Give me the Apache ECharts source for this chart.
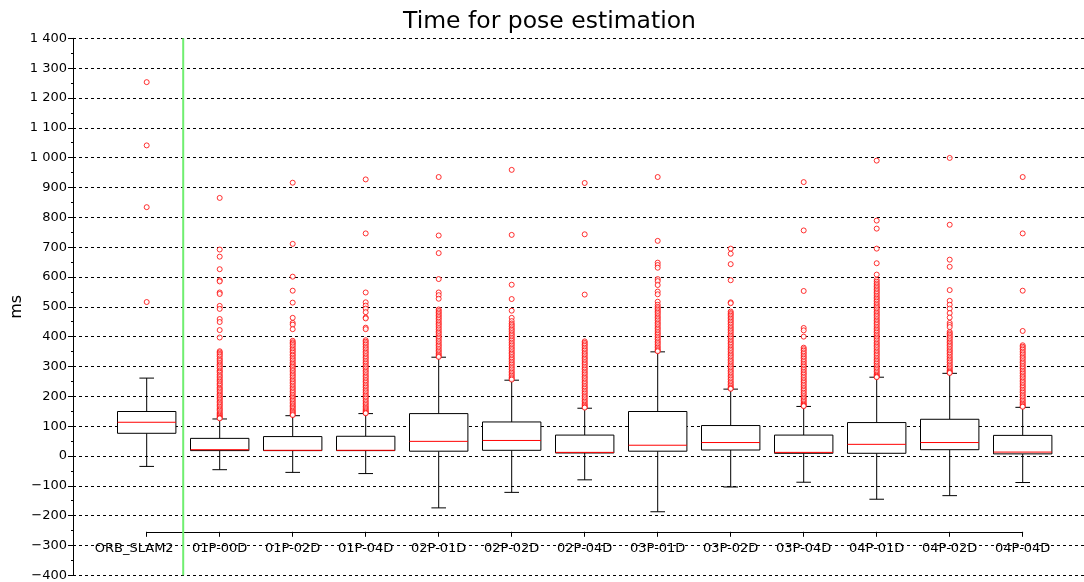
<!DOCTYPE html>
<html>
<head>
<meta charset="utf-8">
<script src="https://cdn.jsdelivr.net/npm/echarts@6/dist/echarts.min.js"></script>
<style>
html,body{margin:0;padding:0;background:#fff;}
#chart{width:1084px;height:582px;}
</style>
</head>
<body>
<div id="chart"></div>
<script>
const categories = ['ORB_SLAM2','01P-00D','01P-02D','01P-04D','02P-01D','02P-02D','02P-04D','03P-01D','03P-02D','03P-04D','04P-01D','04P-02D','04P-04D'];
const whiskerLow  = [-35, -46, -55, -59, -174, -122, -80, -187, -104, -88, -145, -133, -89];
const q1          = [76, 18, 18, 18, 16, 19, 10, 16, 20, 9, 9, 21, 7];
const median      = [113, 21, 19, 19, 49, 52, 12, 36, 45, 12, 39, 45, 13];
const q3          = [149, 59, 65, 66, 142, 114, 70, 149, 102, 70, 112, 123, 69];
const whiskerHigh = [261, 124, 135, 142, 331, 254, 160, 349, 224, 166, 264, 277, 163];

const outliers = [
  [1253, 1041, 834, 516],
  [865, 692, 668, 626, 589, 585, 548, 543, 503, 493, 459, 449, 422, 397, 351, 347, 342, 338, 333, 327, 322, 318, 312, 307, 303, 298, 293, 287, 283, 279, 273, 268, 264, 258, 254, 249, 244, 240, 235, 229, 225, 221, 216, 211, 206, 202, 197, 193, 188, 183, 179, 174, 170, 165, 160, 156, 152, 147, 143, 139, 135, 131, 128, 126],
  [916, 711, 601, 554, 514, 463, 446, 440, 425, 386, 381, 377, 372, 367, 361, 356, 351, 346, 340, 336, 330, 325, 320, 314, 309, 304, 299, 294, 288, 284, 278, 273, 268, 263, 257, 252, 247, 242, 236, 231, 226, 221, 216, 211, 205, 200, 195, 190, 185, 180, 175, 170, 166, 161, 157, 152, 148, 144, 140, 137],
  [927, 746, 548, 515, 504, 494, 482, 464, 461, 430, 425, 388, 383, 378, 373, 367, 362, 357, 351, 346, 341, 335, 330, 325, 319, 314, 309, 303, 298, 293, 287, 282, 277, 271, 266, 261, 255, 250, 245, 239, 234, 229, 223, 218, 213, 207, 202, 197, 192, 186, 181, 176, 171, 166, 161, 157, 153, 149, 145, 143],
  [935, 739, 680, 593, 548, 539, 527, 491, 486, 481, 476, 471, 466, 461, 456, 450, 445, 440, 435, 429, 424, 418, 413, 408, 402, 397, 392, 386, 381, 375, 370, 365, 359, 354, 349, 344, 339, 335, 332],
  [959, 741, 574, 526, 487, 463, 452, 444, 439, 434, 428, 423, 418, 412, 407, 402, 396, 391, 386, 380, 375, 370, 364, 359, 354, 348, 343, 338, 332, 327, 322, 316, 311, 306, 300, 295, 290, 284, 279, 274, 269, 264, 260, 256],
  [915, 743, 541, 384, 379, 374, 369, 363, 358, 353, 347, 342, 337, 331, 326, 321, 315, 310, 305, 299, 294, 289, 283, 278, 273, 267, 262, 257, 251, 246, 241, 235, 230, 225, 219, 214, 209, 203, 198, 193, 187, 182, 177, 172, 168, 164, 162],
  [935, 721, 648, 640, 631, 593, 586, 573, 551, 542, 517, 507, 500, 495, 490, 485, 480, 475, 469, 464, 459, 454, 448, 443, 438, 432, 427, 422, 416, 411, 406, 400, 395, 390, 384, 379, 374, 368, 363, 358, 354, 351],
  [695, 678, 643, 589, 515, 512, 484, 479, 475, 470, 465, 460, 455, 450, 445, 440, 434, 429, 424, 419, 414, 408, 403, 398, 393, 387, 382, 377, 372, 366, 361, 356, 351, 345, 340, 335, 330, 324, 319, 314, 308, 303, 298, 293, 287, 282, 277, 271, 266, 261, 256, 250, 245, 240, 235, 230, 227, 225],
  [918, 756, 553, 429, 421, 400, 363, 358, 353, 347, 342, 336, 331, 326, 320, 315, 309, 304, 299, 293, 288, 282, 277, 272, 266, 261, 255, 250, 245, 239, 234, 228, 223, 218, 212, 207, 201, 196, 191, 186, 181, 176, 172, 169, 167],
  [990, 789, 762, 695, 646, 608, 590, 584, 578, 573, 568, 563, 558, 553, 548, 543, 537, 532, 527, 522, 517, 511, 506, 501, 496, 491, 485, 480, 475, 470, 465, 459, 454, 449, 444, 439, 433, 428, 423, 418, 413, 407, 402, 397, 392, 387, 381, 376, 371, 366, 361, 355, 350, 345, 340, 335, 329, 324, 319, 314, 309, 303, 298, 293, 288, 283, 278, 273, 269, 266, 264],
  [999, 775, 658, 634, 556, 520, 507, 494, 479, 464, 446, 439, 432, 416, 411, 406, 401, 396, 391, 385, 380, 375, 370, 365, 359, 354, 349, 344, 339, 333, 328, 323, 318, 313, 307, 302, 297, 292, 287, 283, 280, 278],
  [935, 746, 554, 419, 371, 366, 361, 356, 350, 345, 340, 334, 329, 324, 318, 313, 308, 302, 297, 292, 286, 281, 276, 270, 265, 260, 254, 249, 244, 238, 233, 228, 222, 217, 212, 206, 201, 196, 190, 185, 180, 175, 171, 167, 165]
];
const yTicks = { min: -400, max: 1400, interval: 100 };

const FONT = 'DejaVu Sans';
const boxData = categories.map((c, i) => [i, whiskerLow[i], q1[i], median[i], q3[i], whiskerHigh[i]]);
const outlierData = [];
outliers.forEach((arr, i) => arr.forEach(v => outlierData.push([i, v])));
const categoryItems = categories.map((c, i) => i === 0 ? { value: c, textStyle: { padding: [0, 25, 0, 0] } } : c);

function fmt(v) {
  const s = Math.abs(v).toString().replace(/\B(?=(\d{3})+(?!\d))/g, ' ');
  return (v < 0 ? '\u2212' : '') + s;
}

const chart = echarts.init(document.getElementById('chart'), null, { renderer: 'canvas' });
chart.setOption({
  animation: false,
  backgroundColor: '#fff',
  title: {
    text: 'Time for pose estimation',
    left: 398,
    top: 5,
    textStyle: { fontFamily: FONT, fontSize: 23.5, fontWeight: 'normal', color: '#000' }
  },
  grid: [
    { left: 73, right: 0, top: 38.3, bottom: 6.7, containLabel: false, outerBoundsMode: 'none' },
    { left: 146.7, right: 61.3, top: 38.3, bottom: 6.7, containLabel: false, outerBoundsMode: 'none' }
  ],
  xAxis: [
    { gridIndex: 0, type: 'value', min: 0, max: 1, show: false },
    {
      gridIndex: 1, type: 'category', data: categoryItems, boundaryGap: false,
      position: 'bottom', offset: -43.5,
      axisLine: { show: true, onZero: false, lineStyle: { color: '#000', width: 1 } },
      axisTick: { show: true, length: 5, interval: 0, lineStyle: { color: '#000' } },
      axisLabel: { interval: 0, margin: 10, fontFamily: FONT, fontSize: 13, color: '#000', hideOverlap: false },
      splitLine: { show: false }
    }
  ],
  yAxis: [
    {
      gridIndex: 0, type: 'value', min: yTicks.min, max: yTicks.max, interval: yTicks.interval,
      name: 'ms', nameLocation: 'middle', nameGap: 48, nameRotate: 90, nameMoveOverlap: false,
      nameTextStyle: { fontFamily: FONT, fontSize: 16, color: '#000' },
      axisLine: { show: true, lineStyle: { color: '#000', width: 1 } },
      axisTick: { show: true, length: 5, lineStyle: { color: '#000' } },
      minorTick: { show: true, splitNumber: 2, length: 2, lineStyle: { color: '#000' } },
      axisLabel: { margin: 6, fontFamily: FONT, fontSize: 13, color: '#000', formatter: fmt },
      splitLine: { show: true, lineStyle: { color: '#000', type: [3, 3], width: 1 } }
    },
    { gridIndex: 1, type: 'value', min: yTicks.min, max: yTicks.max, show: false }
  ],
  series: [
    {
      type: 'custom',
      xAxisIndex: 1, yAxisIndex: 1,
      z: 3,
      data: boxData,
      encode: { x: 0, y: [1, 2, 3, 4, 5] },
      renderItem: function (params, api) {
        const idx = api.value(0);
        const pLo = api.coord([idx, api.value(1)]);
        const pQ1 = api.coord([idx, api.value(2)]);
        const pMed = api.coord([idx, api.value(3)]);
        const pQ3 = api.coord([idx, api.value(4)]);
        const pHi = api.coord([idx, api.value(5)]);
        const bw = api.size([1, 0])[0];
        const x = pQ1[0];
        const half = bw * 0.4;
        const cap = bw * 0.1;
        const black = { stroke: '#000', lineWidth: 1 };
        const children = [
          { type: 'line', shape: { x1: x, y1: pLo[1], x2: x, y2: pQ1[1] }, style: black },
          { type: 'line', shape: { x1: x, y1: pQ3[1], x2: x, y2: pHi[1] }, style: black },
          { type: 'line', shape: { x1: x - cap, y1: pLo[1], x2: x + cap, y2: pLo[1] }, style: black },
          { type: 'line', shape: { x1: x - cap, y1: pHi[1], x2: x + cap, y2: pHi[1] }, style: black },
          { type: 'rect', shape: { x: x - half, y: pQ3[1], width: half * 2, height: pQ1[1] - pQ3[1] },
            style: { fill: '#fff', stroke: '#000', lineWidth: 1 } },
          { type: 'line', shape: { x1: x - half, y1: pMed[1], x2: x + half, y2: pMed[1] },
            style: { stroke: '#ff0000', lineWidth: 1 } }
        ];
        if (idx === 0) {
          const cs = params.coordSys;
          children.push({ type: 'line',
            shape: { x1: x + bw / 2, y1: cs.y, x2: x + bw / 2, y2: cs.y + cs.height },
            style: { stroke: '#70ee70', lineWidth: 2 } });
        }
        return { type: 'group', children: children };
      }
    },
    {
      type: 'scatter',
      xAxisIndex: 1, yAxisIndex: 1,
      z: 4,
      data: outlierData,
      symbol: 'circle',
      symbolSize: 5,
      itemStyle: { color: '#fff', borderColor: '#ff0000', borderWidth: 1 }
    }
  ]
});
</script>
</body>
</html>
